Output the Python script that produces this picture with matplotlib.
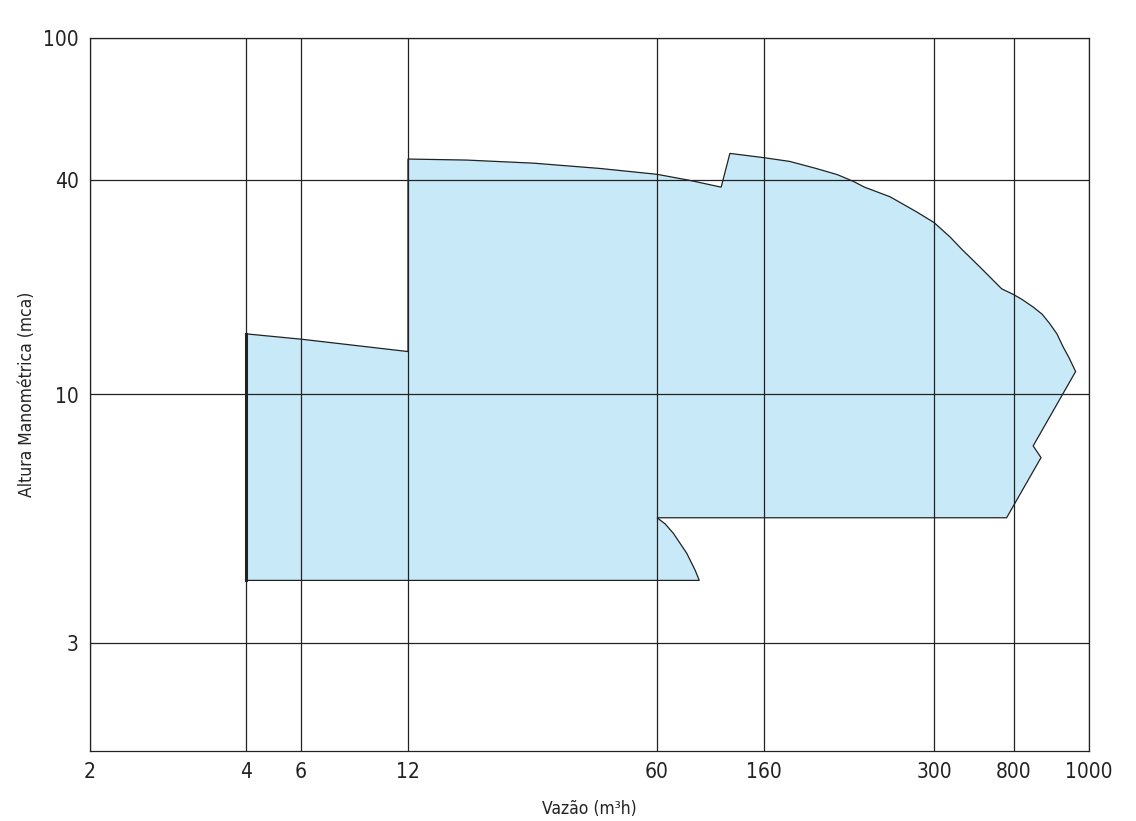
import numpy as np
import matplotlib
matplotlib.use('Agg')
import matplotlib.pyplot as plt
from matplotlib.patches import Polygon
from matplotlib.ticker import NullLocator

plt.rcParams['font.family'] = ['Liberation Sans Narrow', 'DejaVu Sans']
plt.rcParams['font.stretch'] = 'condensed'

# tick values of the chart
x_ticks = [2, 4, 6, 12, 60, 160, 300, 800, 1000]
x_labels = ['2', '4', '6', '12', '60', '160', '300', '800', '1000']
y_ticks = [3, 10, 40, 100]
y_labels = ['3', '10', '40', '100']

# the axes are not a true log scale: each tick sits at its own spot (0..1 along the axis)
x_scale_pos = [0, 0.1562, 0.2112, 0.3183, 0.5676, 0.6747, 0.8448, 0.9249, 1.0]
y_scale_vals = [2, 3, 10, 40, 100]
y_scale_pos = [0, 0.1508, 0.5, 0.8008, 1.0]

# outline of the operating range (flow m3/h, head mca)
vazao = [4, 4, 6, 12, 12, 17.5, 27, 41.5, 60, 81.2, 108, 117, 160, 176, 194,
         210, 223, 232, 255, 281, 300, 365, 421, 527, 688, 793, 819, 847,
         870, 890, 909, 926, 942, 961, 847, 867, 731, 60, 64.6, 69.7, 78.8,
         85.0, 88.4]
altura = [4.07, 14.8, 14.3, 13.2, 45.8, 45.5, 44.6, 43.1, 41.5, 39.9, 38.2,
          47.5, 46.2, 45.1, 43.1, 41.4, 39.6, 38.2, 35.9, 32.6, 30.4, 27.7,
          25.6, 22.8, 19.8, 19.1, 18.5, 17.6, 16.8, 15.8, 14.8, 13.6, 12.7,
          11.6, 7.8, 7.37, 5.51, 5.51, 5.35, 5.11, 4.64, 4.28, 4.07]


def make_scale(vals, pos):
    lv = np.log10(vals)

    def fwd(v):
        v = np.asarray(v, dtype=float)
        return np.interp(np.log10(np.maximum(v, 1e-9)), lv, pos)

    def inv(p):
        return 10 ** np.interp(np.asarray(p, dtype=float), pos, lv)

    return fwd, inv


fig = plt.figure(figsize=(11.36, 8.21), dpi=100)
ax = fig.add_axes([90 / 1136, 1 - 751 / 821, 999 / 1136, 713 / 821])

ax.set_xscale('function', functions=make_scale(x_ticks, x_scale_pos))
ax.set_yscale('function', functions=make_scale(y_scale_vals, y_scale_pos))
ax.set_xlim(x_ticks[0], x_ticks[-1])
ax.set_ylim(y_scale_vals[0], y_scale_vals[-1])

poly = Polygon(np.column_stack([vazao, altura]), closed=True,
               facecolor='#c7e9f8', edgecolor='#222222', lw=0.9, zorder=1)
ax.add_patch(poly)
# left edge is drawn heavier in the original
ax.plot(vazao[:2], altura[:2], color='#222222', lw=2.2, zorder=3)

ax.set_xticks(x_ticks)
ax.set_xticklabels(x_labels)
ax.set_yticks(y_ticks)
ax.set_yticklabels(y_labels)
ax.xaxis.set_minor_locator(NullLocator())
ax.yaxis.set_minor_locator(NullLocator())

ax.grid(True, color='#222222', lw=0.9)
for s in ax.spines.values():
    s.set_color('#222222')
    s.set_linewidth(0.9)
ax.tick_params(length=0, pad=8, labelsize=15, colors='#222222')

ax.set_xlabel('Vazão (m³h)', fontsize=12.5, labelpad=13, color='#222222')
ax.set_ylabel('Altura Manométrica (mca)', fontsize=12.5, labelpad=5, color='#222222')

fig.savefig('out.png', dpi=100)
